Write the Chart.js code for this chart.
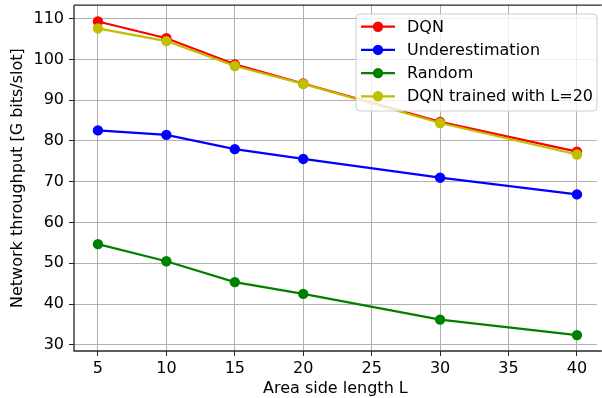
<!DOCTYPE html>
<html>
<head>
<meta charset="utf-8">
<script src="https://cdn.jsdelivr.net/npm/chart.js@4.4.1/dist/chart.umd.min.js"></script>
<style>
html,body{margin:0;padding:0;background:#fff;}
#wrap{width:602px;height:398px;position:relative;}
</style>
</head>
<body>
<div id="wrap"><canvas id="c" width="602" height="398"></canvas></div>
<script>
// ---- data ----
const areaSide = [5, 10, 15, 20, 30, 40];
const dqn = [109.3, 105.2, 98.8, 94.1, 84.7, 77.4];
const underestimation = [82.6, 81.5, 78.0, 75.6, 71.0, 66.9];
const randomPolicy = [54.7, 50.5, 45.4, 42.5, 36.2, 32.4];
const dqnTrainedL20 = [107.6, 104.5, 98.4, 94.0, 84.4, 76.7];
const seriesLabels = ['DQN', 'Underestimation', 'Random', 'DQN trained with L=20'];
const xTicks = [5, 10, 15, 20, 25, 30, 35, 40];
const yTicks = [30, 40, 50, 60, 70, 80, 90, 100, 110];

const colors = ['#ff0000', '#0000ff', '#008000', '#bfbf00'];
const seriesValues = [dqn, underestimation, randomPolicy, dqnTrainedL20];
const FONT = 'DejaVu Sans';
const FS = 16;

const datasets = seriesValues.map((vals, i) => ({
  label: seriesLabels[i],
  data: areaSide.map((x, j) => ({x: x, y: vals[j]})),
  borderColor: colors[i],
  backgroundColor: colors[i],
  borderWidth: 2.2,
  pointRadius: 5.2,
  pointBorderWidth: 0,
  pointHoverRadius: 5.2,
  tension: 0,
  order: 4 - i
}));

const framePlugin = {
  id: 'frame',
  afterDatasetsDraw(chart) {
    const {ctx, chartArea: a} = chart;
    ctx.save();
    ctx.strokeStyle = '#262626';
    ctx.lineWidth = 1.3;
    ctx.beginPath();
    ctx.moveTo(a.left, a.top);
    ctx.lineTo(a.right + 5, a.top);
    ctx.moveTo(a.left, a.top);
    ctx.lineTo(a.left, a.bottom);
    ctx.lineTo(a.right + 5, a.bottom);
    ctx.stroke();
    ctx.restore();
  },
  afterDraw(chart) {
    const {ctx} = chart;
    const bx = 356, by = 14, bw = 241, bh = 97, r = 4;
    ctx.save();
    ctx.beginPath();
    ctx.moveTo(bx + r, by);
    ctx.lineTo(bx + bw - r, by);
    ctx.quadraticCurveTo(bx + bw, by, bx + bw, by + r);
    ctx.lineTo(bx + bw, by + bh - r);
    ctx.quadraticCurveTo(bx + bw, by + bh, bx + bw - r, by + bh);
    ctx.lineTo(bx + r, by + bh);
    ctx.quadraticCurveTo(bx, by + bh, bx, by + bh - r);
    ctx.lineTo(bx, by + r);
    ctx.quadraticCurveTo(bx, by, bx + r, by);
    ctx.closePath();
    ctx.fillStyle = 'rgba(255,255,255,0.8)';
    ctx.fill();
    ctx.strokeStyle = '#cccccc';
    ctx.lineWidth = 1;
    ctx.stroke();
    ctx.font = FS + 'px "' + FONT + '"';
    ctx.textBaseline = 'middle';
    ctx.textAlign = 'left';
    seriesLabels.forEach((lab, i) => {
      const y = 26.7 + i * 23.2;
      ctx.strokeStyle = colors[i];
      ctx.lineWidth = 2.2;
      ctx.beginPath();
      ctx.moveTo(361, y);
      ctx.lineTo(395, y);
      ctx.stroke();
      ctx.fillStyle = colors[i];
      ctx.beginPath();
      ctx.arc(378, y, 5.2, 0, Math.PI * 2);
      ctx.fill();
      ctx.fillStyle = '#000';
      ctx.fillText(lab, 407, y + 1);
    });
    ctx.restore();
  }
};

new Chart(document.getElementById('c'), {
  type: 'line',
  data: {datasets: datasets},
  plugins: [framePlugin],
  options: {
    responsive: false,
    devicePixelRatio: 1,
    animation: false,
    events: [],
    layout: {padding: {left: 0, top: 5, right: 1, bottom: 0}},
    plugins: {legend: {display: false}, tooltip: {enabled: false}},
    scales: {
      x: {
        type: 'linear',
        min: 3.25,
        max: 41.45,
        afterFit(s) { s.height = 47; s.paddingLeft = 0; s.paddingRight = 0; },
        afterBuildTicks(s) { s.ticks = xTicks.map(v => ({value: v})); },
        grid: {color: '#b0b0b0', lineWidth: 1, tickLength: 5, tickColor: '#262626', drawOnChartArea: true},
        border: {display: false},
        ticks: {color: '#000', font: {family: FONT, size: FS}, padding: 3, maxRotation: 0, autoSkip: false},
        title: {display: true, text: 'Area side length L', color: '#000', font: {family: FONT, size: FS}, padding: {top: 0, bottom: 0}}
      },
      y: {
        type: 'linear',
        min: 28.5,
        max: 113.3,
        afterFit(s) { s.width = 74; s.paddingTop = 0; s.paddingBottom = 0; },
        afterBuildTicks(s) { s.ticks = yTicks.map(v => ({value: v})); },
        grid: {color: '#b0b0b0', lineWidth: 1, tickLength: 5, tickColor: '#262626'},
        border: {display: false},
        ticks: {color: '#000', font: {family: FONT, size: FS}, padding: 5, autoSkip: false},
        title: {display: true, text: 'Network throughput [G bits/slot]', color: '#000', font: {family: FONT, size: FS}, padding: {top: 8, bottom: 0}}
      }
    }
  }
});
</script>
</body>
</html>
